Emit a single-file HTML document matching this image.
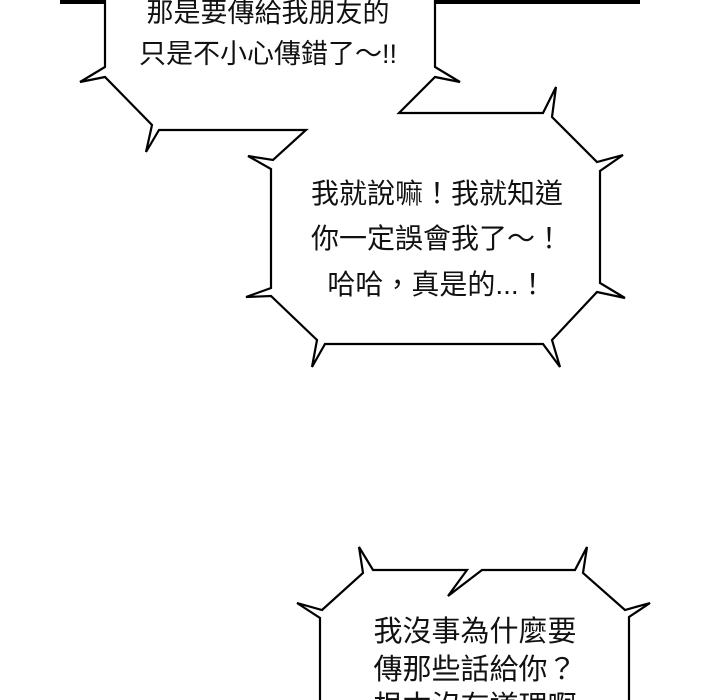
<!DOCTYPE html>
<html><head><meta charset="utf-8"><style>
html,body{margin:0;padding:0;background:#fff;}
svg{display:block;}
text{font-family:"Liberation Sans","Noto Sans CJK TC",sans-serif;fill:#111;}
</style></head><body>
<svg width="720" height="700" viewBox="0 0 720 700">
<rect x="60" y="0" width="580" height="4" fill="#000"/>
<rect x="105" y="0" width="330" height="3" fill="#999"/>
<path d="M105,0 L105,67 L80,82 L105,77 L152,125 L146,152 L159,130 L306,130 L273,160 L248,156 L271,169 L271,288 L246,297 L271,296 L317,340 L312,367 L325,344 L543,344 L560,367 L552,340 L597,292 L625,298 L600,283 L600,171 L623,155 L597,162 L552,117 L556,87 L543,113 L399,113 L435,77 L460,82 L435,67 L435,0" fill="#fff" stroke="#000" stroke-width="2.2" stroke-linejoin="miter"/>
<g font-size="27" text-anchor="middle">
<text x="268" y="22">那是要傳給我朋友的</text>
<text x="268" y="63">只是不小心傳錯了～!!</text>
</g>
<g font-size="28" text-anchor="middle">
<text x="437" y="203">我就說嘛！我就知道</text>
<text x="437" y="248">你一定誤會我了～！</text>
<text x="437" y="294">哈哈，真是的...！</text>
</g>
<path d="M320,700 L320,618 L297,603 L322,610 L363,573 L359,547 L373,570 L467,570 L448,596 L482,570 L575,570 L587,547 L583,573 L625,610 L650,603 L629,617 L629,700" fill="#fff" stroke="#000" stroke-width="2.2"/>
<g font-size="29" text-anchor="middle">
<text x="475" y="641">我沒事為什麼要</text>
<text x="475" y="679">傳那些話給你？</text>
<text x="475" y="716">根本沒有道理啊</text>
</g>
</svg>
</body></html>
